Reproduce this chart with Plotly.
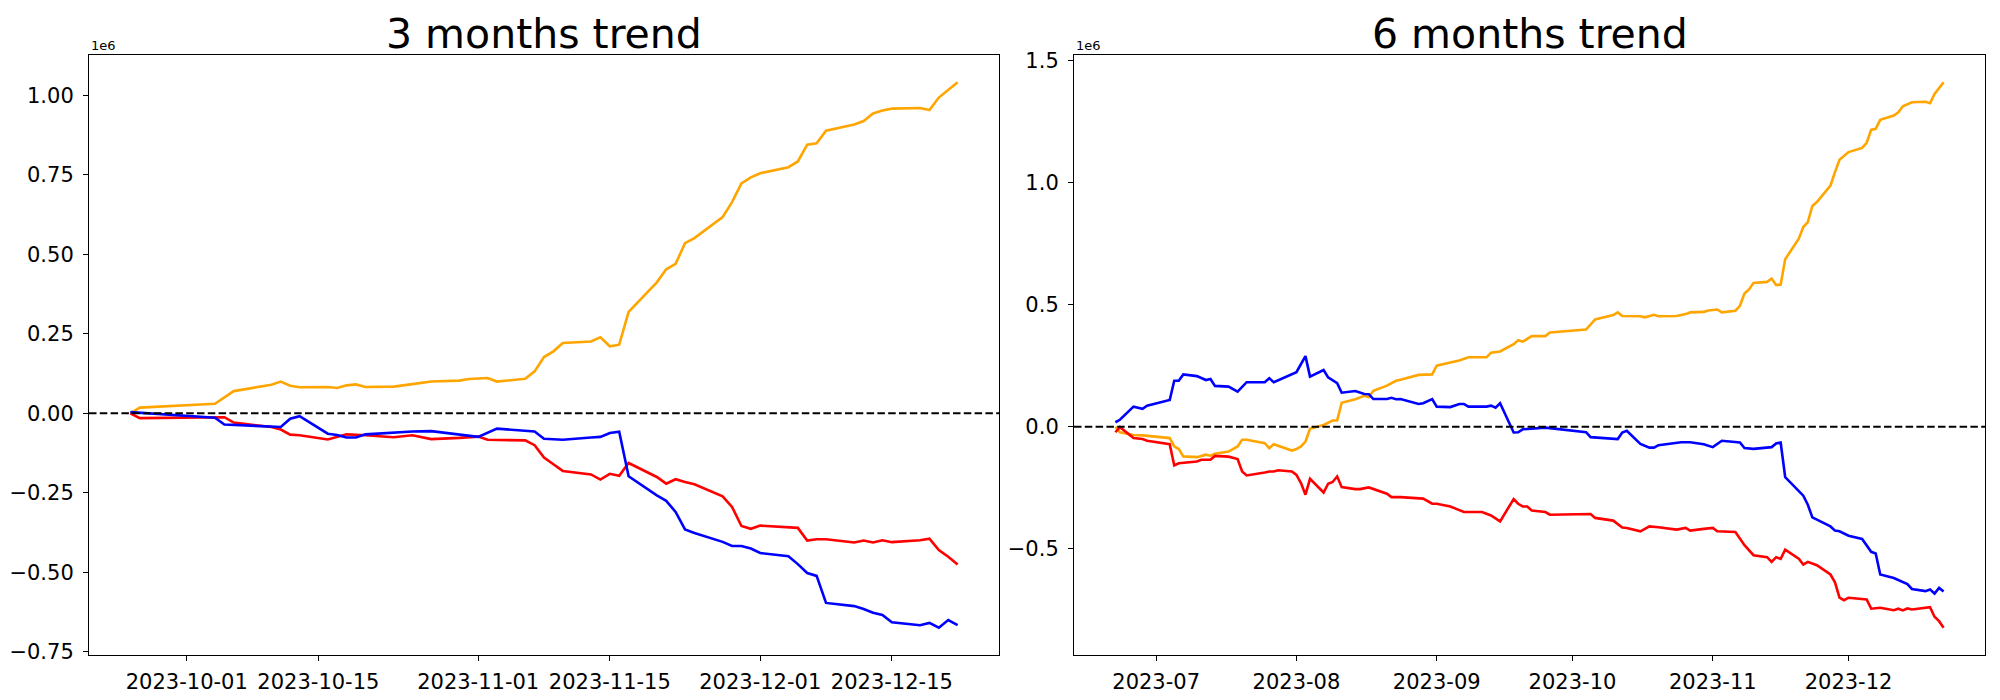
import plotly.graph_objects as go
import pandas as pd

# ---------------- 3 months trend (values in units of 1e6) ----------------
m3_orange_dates = ["2023-09-25","2023-09-26","2023-10-04","2023-10-06","2023-10-10","2023-10-11","2023-10-12","2023-10-13","2023-10-16","2023-10-17",
                   "2023-10-18","2023-10-19","2023-10-20","2023-10-23","2023-10-25","2023-10-26","2023-10-27","2023-10-30","2023-10-31","2023-11-02",
                   "2023-11-03","2023-11-06","2023-11-07","2023-11-08","2023-11-09","2023-11-10","2023-11-13","2023-11-14","2023-11-15","2023-11-16",
                   "2023-11-17","2023-11-20","2023-11-21","2023-11-22","2023-11-23","2023-11-24","2023-11-27","2023-11-28","2023-11-29","2023-11-30",
                   "2023-12-01","2023-12-04","2023-12-05","2023-12-06","2023-12-07","2023-12-08","2023-12-11","2023-12-12","2023-12-13","2023-12-14",
                   "2023-12-15","2023-12-18","2023-12-19","2023-12-20","2023-12-21","2023-12-22"]
m3_orange = [0.0,0.018,0.030,0.070,0.090,0.100,0.087,0.082,0.083,0.080,
             0.088,0.091,0.083,0.084,0.092,0.096,0.100,0.103,0.108,0.111,
             0.100,0.109,0.132,0.177,0.195,0.221,0.226,0.239,0.211,0.216,
             0.319,0.412,0.453,0.470,0.535,0.551,0.617,0.664,0.723,0.742,
             0.755,0.774,0.792,0.845,0.849,0.889,0.908,0.919,0.943,0.952,
             0.958,0.960,0.954,0.993,1.017,1.041]

m3_blue_dates = ["2023-09-25","2023-09-26","2023-10-04","2023-10-05","2023-10-11","2023-10-12","2023-10-13","2023-10-16","2023-10-17","2023-10-18",
                 "2023-10-19","2023-10-20","2023-10-25","2023-10-27","2023-10-30","2023-11-01","2023-11-03","2023-11-06","2023-11-07","2023-11-08",
                 "2023-11-10","2023-11-13","2023-11-14","2023-11-15","2023-11-16","2023-11-17","2023-11-20","2023-11-21","2023-11-22","2023-11-23",
                 "2023-11-24","2023-11-27","2023-11-28","2023-11-29","2023-11-30","2023-12-01","2023-12-04","2023-12-05","2023-12-06","2023-12-07",
                 "2023-12-08","2023-12-11","2023-12-12","2023-12-13","2023-12-14","2023-12-15","2023-12-18","2023-12-19","2023-12-20","2023-12-21",
                 "2023-12-22"]
m3_blue = [0.004,0.002,-0.014,-0.035,-0.043,-0.017,-0.009,-0.064,-0.068,-0.076,
           -0.076,-0.066,-0.057,-0.056,-0.066,-0.074,-0.048,-0.056,-0.057,-0.080,
           -0.083,-0.076,-0.074,-0.062,-0.058,-0.198,-0.258,-0.275,-0.310,-0.365,
           -0.376,-0.404,-0.417,-0.417,-0.425,-0.439,-0.449,-0.474,-0.502,-0.511,
           -0.596,-0.606,-0.615,-0.627,-0.634,-0.657,-0.666,-0.659,-0.674,-0.650,
           -0.666]

m3_red_dates = ["2023-09-25","2023-09-26","2023-10-05","2023-10-06","2023-10-10","2023-10-11","2023-10-12","2023-10-13","2023-10-16","2023-10-17",
                "2023-10-18","2023-10-20","2023-10-23","2023-10-25","2023-10-27","2023-10-30","2023-11-01","2023-11-02","2023-11-06","2023-11-07",
                "2023-11-08","2023-11-09","2023-11-10","2023-11-13","2023-11-14","2023-11-15","2023-11-16","2023-11-17","2023-11-20","2023-11-21",
                "2023-11-22","2023-11-23","2023-11-24","2023-11-27","2023-11-28","2023-11-29","2023-11-30","2023-12-01","2023-12-04","2023-12-05",
                "2023-12-06","2023-12-07","2023-12-08","2023-12-11","2023-12-12","2023-12-13","2023-12-14","2023-12-15","2023-12-18","2023-12-19",
                "2023-12-20","2023-12-21","2023-12-22"]
m3_red = [0.0,-0.015,-0.012,-0.029,-0.043,-0.051,-0.067,-0.069,-0.082,-0.074,
          -0.066,-0.069,-0.075,-0.069,-0.081,-0.077,-0.073,-0.083,-0.085,-0.100,
          -0.139,-0.160,-0.181,-0.192,-0.208,-0.190,-0.196,-0.156,-0.200,-0.221,
          -0.207,-0.216,-0.223,-0.261,-0.294,-0.354,-0.363,-0.353,-0.360,-0.360,
          -0.400,-0.396,-0.396,-0.406,-0.400,-0.406,-0.399,-0.405,-0.399,-0.394,
          -0.430,-0.451,-0.475]

# ---------------- 6 months trend (values in units of 1e6) ----------------
m6_orange_dates = ["2023-06-22","2023-06-23","2023-06-26","2023-06-28","2023-07-04","2023-07-05","2023-07-06","2023-07-07","2023-07-10","2023-07-12",
                   "2023-07-13","2023-07-14","2023-07-17","2023-07-19","2023-07-20","2023-07-21","2023-07-25","2023-07-26","2023-07-27","2023-07-31",
                   "2023-08-01","2023-08-02","2023-08-03","2023-08-04","2023-08-07","2023-08-09","2023-08-10","2023-08-11","2023-08-14","2023-08-16",
                   "2023-08-17","2023-08-18","2023-08-21","2023-08-23","2023-08-24","2023-08-28","2023-08-31","2023-09-01","2023-09-04","2023-09-06",
                   "2023-09-08","2023-09-12","2023-09-13","2023-09-15","2023-09-18","2023-09-19","2023-09-20","2023-09-22","2023-09-25","2023-09-26",
                   "2023-10-04","2023-10-06","2023-10-10","2023-10-11","2023-10-12","2023-10-16","2023-10-17","2023-10-19","2023-10-20","2023-10-24",
                   "2023-10-26","2023-10-27","2023-10-30","2023-10-31","2023-11-02","2023-11-03","2023-11-06","2023-11-07","2023-11-08","2023-11-09",
                   "2023-11-10","2023-11-13","2023-11-14","2023-11-15","2023-11-16","2023-11-17","2023-11-20","2023-11-21","2023-11-22","2023-11-23",
                   "2023-11-24","2023-11-27","2023-11-28","2023-11-29","2023-12-01","2023-12-04","2023-12-05","2023-12-06","2023-12-07","2023-12-08",
                   "2023-12-11","2023-12-12","2023-12-13","2023-12-15","2023-12-18","2023-12-19","2023-12-20","2023-12-21","2023-12-22"]
m6_orange = [0.0,-0.022,-0.033,-0.035,-0.046,-0.080,-0.091,-0.121,-0.124,-0.114,
             -0.118,-0.110,-0.101,-0.080,-0.053,-0.053,-0.067,-0.087,-0.071,-0.097,
             -0.091,-0.080,-0.060,-0.008,0.008,0.026,0.026,0.099,0.113,0.127,
             0.121,0.148,0.169,0.189,0.193,0.213,0.215,0.251,0.264,0.272,
             0.285,0.285,0.304,0.309,0.339,0.355,0.349,0.372,0.372,0.387,
             0.399,0.440,0.458,0.469,0.454,0.453,0.449,0.459,0.453,0.454,
             0.462,0.469,0.471,0.477,0.481,0.469,0.476,0.496,0.546,0.563,
             0.590,0.594,0.608,0.581,0.583,0.687,0.771,0.819,0.839,0.905,
             0.921,0.989,1.044,1.094,1.126,1.143,1.164,1.217,1.221,1.258,
             1.276,1.289,1.314,1.330,1.332,1.326,1.364,1.387,1.412]

m6_blue_dates = ["2023-06-22","2023-06-23","2023-06-26","2023-06-28","2023-06-29","2023-07-04","2023-07-05","2023-07-06","2023-07-07","2023-07-10",
                 "2023-07-12","2023-07-13","2023-07-14","2023-07-17","2023-07-19","2023-07-21","2023-07-25","2023-07-26","2023-07-27","2023-08-01",
                 "2023-08-03","2023-08-04","2023-08-07","2023-08-08","2023-08-10","2023-08-11","2023-08-14","2023-08-16","2023-08-17","2023-08-18",
                 "2023-08-21","2023-08-22","2023-08-23","2023-08-24","2023-08-28","2023-08-29","2023-08-31","2023-09-01","2023-09-04","2023-09-06",
                 "2023-09-07","2023-09-08","2023-09-12","2023-09-13","2023-09-14","2023-09-15","2023-09-18","2023-09-19","2023-09-20","2023-09-25",
                 "2023-10-04","2023-10-05","2023-10-11","2023-10-12","2023-10-13","2023-10-16","2023-10-18","2023-10-19","2023-10-20","2023-10-25",
                 "2023-10-27","2023-10-30","2023-11-01","2023-11-03","2023-11-07","2023-11-08","2023-11-10","2023-11-14","2023-11-15","2023-11-16",
                 "2023-11-17","2023-11-21","2023-11-22","2023-11-23","2023-11-27","2023-11-28","2023-11-29","2023-12-01","2023-12-04","2023-12-06",
                 "2023-12-07","2023-12-08","2023-12-11","2023-12-13","2023-12-14","2023-12-15","2023-12-18","2023-12-19","2023-12-20","2023-12-21",
                 "2023-12-22"]
m6_blue = [0.019,0.029,0.083,0.074,0.087,0.110,0.189,0.189,0.215,0.208,
           0.192,0.196,0.168,0.165,0.144,0.183,0.183,0.199,0.183,0.224,
           0.290,0.206,0.233,0.203,0.179,0.140,0.147,0.135,0.134,0.114,
           0.114,0.119,0.113,0.114,0.094,0.097,0.114,0.083,0.081,0.094,
           0.094,0.083,0.083,0.087,0.079,0.097,-0.023,-0.022,-0.010,-0.003,
           -0.022,-0.042,-0.050,-0.023,-0.016,-0.070,-0.085,-0.085,-0.075,-0.063,
           -0.063,-0.071,-0.083,-0.057,-0.064,-0.087,-0.090,-0.083,-0.068,-0.064,
           -0.206,-0.282,-0.319,-0.371,-0.408,-0.425,-0.428,-0.446,-0.459,-0.512,
           -0.519,-0.605,-0.619,-0.636,-0.644,-0.664,-0.673,-0.666,-0.683,-0.660,
           -0.675]

m6_red_dates = ["2023-06-22","2023-06-23","2023-06-26","2023-06-28","2023-06-29","2023-07-04","2023-07-05","2023-07-06","2023-07-10","2023-07-11",
                "2023-07-13","2023-07-14","2023-07-17","2023-07-19","2023-07-20","2023-07-21","2023-07-25","2023-07-26","2023-07-27","2023-07-28",
                "2023-07-31","2023-08-01","2023-08-02","2023-08-03","2023-08-04","2023-08-07","2023-08-08","2023-08-09","2023-08-10","2023-08-11",
                "2023-08-14","2023-08-15","2023-08-17","2023-08-21","2023-08-22","2023-08-24","2023-08-29","2023-08-31","2023-09-01","2023-09-04",
                "2023-09-07","2023-09-08","2023-09-11","2023-09-13","2023-09-15","2023-09-18","2023-09-19","2023-09-20","2023-09-21","2023-09-22",
                "2023-09-25","2023-09-26","2023-10-05","2023-10-06","2023-10-10","2023-10-12","2023-10-13","2023-10-16","2023-10-18","2023-10-20",
                "2023-10-24","2023-10-26","2023-10-27","2023-10-30","2023-11-01","2023-11-02","2023-11-06","2023-11-08","2023-11-10","2023-11-13",
                "2023-11-14","2023-11-15","2023-11-16","2023-11-17","2023-11-20","2023-11-21","2023-11-22","2023-11-24","2023-11-27","2023-11-28",
                "2023-11-29","2023-11-30","2023-12-01","2023-12-05","2023-12-06","2023-12-08","2023-12-11","2023-12-12","2023-12-13","2023-12-14",
                "2023-12-15","2023-12-19","2023-12-20","2023-12-21","2023-12-22"]
m6_red = [-0.022,-0.001,-0.046,-0.050,-0.057,-0.071,-0.158,-0.149,-0.142,-0.135,
          -0.135,-0.119,-0.122,-0.132,-0.183,-0.199,-0.187,-0.183,-0.183,-0.178,
          -0.183,-0.197,-0.230,-0.278,-0.213,-0.269,-0.233,-0.226,-0.203,-0.247,
          -0.255,-0.255,-0.248,-0.274,-0.288,-0.288,-0.294,-0.315,-0.315,-0.326,
          -0.349,-0.349,-0.349,-0.363,-0.387,-0.296,-0.315,-0.326,-0.326,-0.343,
          -0.349,-0.360,-0.357,-0.373,-0.384,-0.412,-0.414,-0.428,-0.408,-0.411,
          -0.421,-0.414,-0.425,-0.418,-0.414,-0.428,-0.431,-0.485,-0.526,-0.534,
          -0.553,-0.534,-0.541,-0.503,-0.540,-0.564,-0.553,-0.567,-0.605,-0.637,
          -0.700,-0.710,-0.700,-0.707,-0.745,-0.741,-0.751,-0.745,-0.752,-0.744,
          -0.748,-0.739,-0.778,-0.796,-0.823]

# ---------------- ticks / labels ----------------
titles = ["3 months trend", "6 months trend"]
m3_xtick_vals = ["2023-10-01","2023-10-15","2023-11-01","2023-11-15","2023-12-01","2023-12-15"]
m3_xtick_text = ["2023-10-01","2023-10-15","2023-11-01","2023-11-15","2023-12-01","2023-12-15"]
m6_xtick_vals = ["2023-07-01","2023-08-01","2023-09-01","2023-10-01","2023-11-01","2023-12-01"]
m6_xtick_text = ["2023-07","2023-08","2023-09","2023-10","2023-11","2023-12"]
m3_ytick_vals = [-0.75,-0.5,-0.25,0.0,0.25,0.5,0.75,1.0]
m3_ytick_text = ["\u22120.75","\u22120.50","\u22120.25","0.00","0.25","0.50","0.75","1.00"]
m6_ytick_vals = [-0.5,0.0,0.5,1.0,1.5]
m6_ytick_text = ["\u22120.5","0.0","0.5","1.0","1.5"]
offset_text = "1e6"

panels = [
    dict(series=[(m3_orange_dates, m3_orange, "orange"), (m3_red_dates, m3_red, "red"), (m3_blue_dates, m3_blue, "blue")],
         xt=(m3_xtick_vals, m3_xtick_text), yt=(m3_ytick_vals, m3_ytick_text)),
    dict(series=[(m6_orange_dates, m6_orange, "orange"), (m6_red_dates, m6_red, "red"), (m6_blue_dates, m6_blue, "blue")],
         xt=(m6_xtick_vals, m6_xtick_text), yt=(m6_ytick_vals, m6_ytick_text)),
]
domains = [[0.0445, 0.4995], [0.537, 0.9925]]

FONT = "DejaVu Sans"
TICK_SIZE = 21
fig = go.Figure()
layout = dict(width=2000, height=700, margin=dict(l=0, r=0, t=55, b=45, pad=0),
              plot_bgcolor="white", paper_bgcolor="white", showlegend=False,
              font=dict(family=FONT, size=TICK_SIZE, color="black"))
annotations = []
shapes = []

for i, p in enumerate(panels):
    xa = "x" if i == 0 else "x2"
    ya = "y" if i == 0 else "y2"
    all_d, all_v = [], []
    for d, v, c in p["series"]:
        assert len(d) == len(v)
        fig.add_trace(go.Scatter(x=pd.to_datetime(d), y=v, mode="lines",
                                 line=dict(color=c, width=2.6), xaxis=xa, yaxis=ya,
                                 hoverinfo="skip"))
        all_d += list(pd.to_datetime(d)); all_v += v
    dmin, dmax = min(all_d), max(all_d)
    pad_t = (dmax - dmin) * 0.05
    vmin, vmax = min(all_v), max(all_v)
    pad_v = (vmax - vmin) * 0.05
    common = dict(showline=True, linecolor="black", linewidth=1.1, mirror=True,
                  ticks="outside", ticklen=5, tickwidth=1.1, tickcolor="black",
                  showgrid=False, zeroline=False, automargin=False,
                  tickfont=dict(family=FONT, size=TICK_SIZE, color="black"))
    xkey = "xaxis" if i == 0 else "xaxis2"
    ykey = "yaxis" if i == 0 else "yaxis2"
    layout[xkey] = dict(common, domain=domains[i], anchor=ya, type="date",
                        range=[dmin - pad_t, dmax + pad_t],
                        tickmode="array", tickvals=p["xt"][0], ticktext=p["xt"][1],
                        ticklabelstandoff=3)
    layout[ykey] = dict(common, domain=[0, 1], anchor=xa,
                        range=[vmin - pad_v, vmax + pad_v],
                        tickmode="array", tickvals=p["yt"][0], ticktext=p["yt"][1],
                        ticklabelstandoff=5)
    cx = (domains[i][0] + domains[i][1]) / 2
    annotations.append(dict(text=titles[i], x=cx, y=1, xref="paper", yref="paper",
                            xanchor="center", yanchor="bottom", showarrow=False,
                            font=dict(family=FONT, size=41, color="black"), yshift=-5))
    annotations.append(dict(text=offset_text, x=domains[i][0], y=1, xref="paper", yref="paper",
                            xanchor="left", yanchor="bottom", showarrow=False,
                            font=dict(family=FONT, size=13, color="black"), yshift=0))
    shapes.append(dict(type="line", xref=f"{xa} domain", yref=ya, x0=0, x1=1, y0=0, y1=0,
                       line=dict(color="black", width=2, dash="7.5px,3.3px"), layer="above"))

layout["annotations"] = annotations
layout["shapes"] = shapes
fig.update_layout(**layout)
fig.write_html("out.html", config={"displayModeBar": False},
               post_script="document.body.style.margin='0';document.body.style.overflow='hidden';")
